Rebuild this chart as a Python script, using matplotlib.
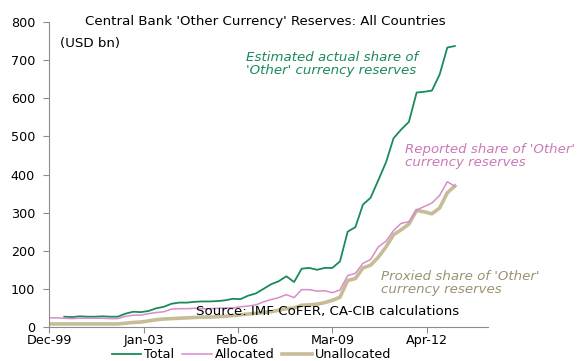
import matplotlib
matplotlib.use("Agg")
import matplotlib.pyplot as plt
import pandas as pd

plt.rcParams["font.family"] = ["DejaVu Sans"]

# quarterly observations, Dec-99 .. Mar-13
dates = pd.date_range("1999-12-31", periods=54, freq="QE")

# Total starts Jun-00
total = [27, 26, 28, 27, 27, 28, 27, 27, 35, 40, 39, 42, 49, 53, 61, 64,
         64, 66, 67, 67, 68, 70, 74, 73, 82, 88, 100, 112, 120, 133, 118, 153,
         155, 150, 155, 155, 172, 250, 262, 321, 339, 385, 432, 495, 518, 538,
         615, 617, 620, 662, 733, 737]
allocated = [24, 24, 23, 22, 23, 23, 23, 23, 22, 22, 28, 31, 31, 35, 38, 40,
             47, 48, 48, 49, 48, 48, 49, 50, 50, 53, 55, 58, 66, 72, 77, 85,
             77, 98, 98, 94, 95, 90, 97, 135, 141, 167, 177, 210, 225, 253,
             272, 276, 307, 316, 325, 345, 381, 369]
unallocated = [8, 8, 8, 8, 8, 8, 8, 8, 8, 8, 10, 12, 13, 16, 19, 21,
               22, 23, 24, 25, 26, 26, 27, 28, 30, 32, 34, 36, 38, 40, 44, 48,
               50, 57, 58, 60, 64, 70, 78, 122, 127, 155, 162, 183, 210, 242,
               255, 270, 306, 302, 297, 312, 352, 370]

tick_dates = pd.to_datetime(["1999-12-31", "2003-01-31", "2006-02-28",
                             "2009-03-31", "2012-04-30"])
tick_labels = ["Dec-99", "Jan-03", "Feb-06", "Mar-09", "Apr-12"]

green = "#1b8a5a"
pink = "#d88cc8"
tan = "#c6bc98"

W, H = 581, 361
fig = plt.figure(figsize=(W / 100, H / 100), dpi=100)
ax = fig.add_axes([49 / W, 1 - 327 / H, (488 - 49) / W, (327 - 22) / H])

ax.plot(dates[2:], total, color=green, lw=1.3, label="Total")
ax.plot(dates, allocated, color=pink, lw=1.1, label="Allocated")
ax.plot(dates, unallocated, color=tan, lw=2.6, label="Unallocated", zorder=1)

ax.set_ylim(0, 800)
ax.set_yticks(range(0, 801, 100))
ax.set_xlim(pd.Timestamp("1999-12-31"), pd.Timestamp("2014-04-30"))
ax.set_xticks(tick_dates)
ax.set_xticklabels(tick_labels)

for side in ("top", "right"):
    ax.spines[side].set_visible(False)
for side in ("left", "bottom"):
    ax.spines[side].set_color("#8c8c8c")
    ax.spines[side].set_linewidth(0.8)
fs = 9.2
ax.tick_params(direction="out", length=4, width=0.8, color="#8c8c8c",
               labelsize=fs)
ax.tick_params(axis="y", pad=6)
ax.tick_params(axis="x", pad=1)


def put(x, y, s, **kw):
    # position by pixel coordinates from the top-left corner
    fig.text(x / W, 1 - y / H, s, fontsize=9.6, ha="left", va="center", **kw)


put(85, 22, "Central Bank 'Other Currency' Reserves: All Countries")
put(60, 44, "(USD bn)")
put(246, 64, "Estimated actual share of\n'Other' currency reserves",
    color=green, style="italic", linespacing=0.95)
put(405, 156, "Reported share of 'Other'\ncurrency reserves",
    color="#cc78b8", style="italic", linespacing=0.95)
put(381, 283, "Proxied share of 'Other'\ncurrency reserves",
    color="#9c9272", style="italic", linespacing=0.95)
put(196, 312, "Source: IMF CoFER, CA-CIB calculations")

fig.legend(loc="center", bbox_to_anchor=(0.433, 1 - 355 / H), ncol=3,
           frameon=False, fontsize=fs, handlelength=2.3, handletextpad=0.25,
           columnspacing=0.6, borderpad=0)

fig.savefig("out.png", dpi=100)
